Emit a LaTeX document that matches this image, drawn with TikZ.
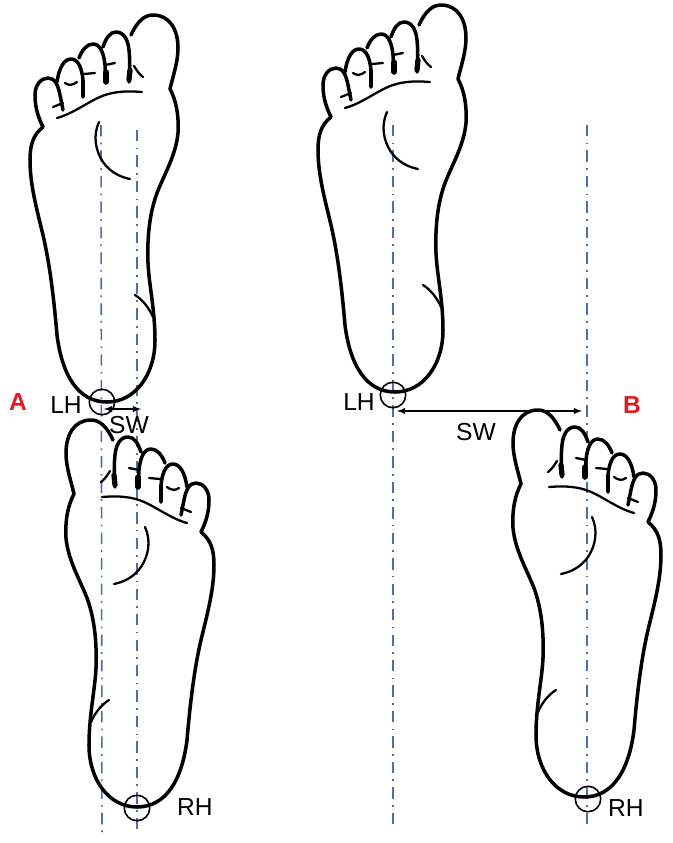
\documentclass[tikz,border=0pt]{standalone}
\usepackage{fontspec}
\setmainfont{Liberation Sans}
\usetikzlibrary{arrows}
\tikzset{
  skin/.style={line width=2pt,black,line cap=round,line join=round},
  crease/.style={line width=1.3pt,black,line cap=round},
  axisline/.style={color=axisblue,line width=0.9pt,dash pattern=on 6.5pt off 3.5pt on 1pt off 3.5pt},
  heelmark/.style={circle,draw,inner sep=0pt,minimum size=14.5pt,line width=0.9pt},
  label/.style={font=\fontsize{14}{16}\selectfont,inner sep=0pt},
  letter/.style={font=\fontsize{14}{16}\selectfont\bfseries,text=letterred,inner sep=0pt}
}
\definecolor{axisblue}{HTML}{4A70B0}
\definecolor{letterred}{HTML}{E01B22}
\begin{document}
\begin{tikzpicture}[x=0.02cm,y=-0.02cm]
                      \useasboundingbox (0,0) rectangle (673,843);
                      \foreach \u/\v/\w/\z in {101/125/102/835, 137/130/137/835, 393/125/393/830, 587/125/587/830} {
                        \coordinate (p) at (\u,\v);
                        \coordinate (q) at (\w,\z);
                        \draw[axisline] (p)--(q);
                      }
                      \foreach \px/\py/\fx in {0/0/1, 288/-10/1, 244/405/-1, 691/395/-1} {
                        \begin{scope}[shift={(\px,\py)},xscale=\fx]
                          \draw[skin] (43,127) .. controls (37,115) and (35,105) .. (35,95) .. controls (35,85) and (41,78) .. (48,78) .. controls (55,78) and (58,85) .. (60,95) -- (63,110);
                          \draw[skin] (57,82) .. controls (59,68) and (64,59) .. (71,59) .. controls (79,59) and (82,70) .. (83,80) -- (83,97);
                          \draw[skin] (79,58) .. controls (82,50) and (87,44) .. (93,44) .. controls (101,44) and (104,55) .. (105,65) -- (106,83);
                          \draw[skin] (103,47) .. controls (106,38) and (110,32) .. (116,32) .. controls (124,32) and (128,40) .. (129,50) .. controls (130,60) and (130,70) .. (129,82);
                          \draw[skin] (131,35) .. controls (137,22) and (144,15) .. (153,15) .. controls (170,15) and (178,30) .. (178,48) .. controls (178,62) and (173,76) .. (170,89);
                          \draw[skin] (170,89) .. controls (176,100) and (179,115) .. (178,133) .. controls (176,155) and (164,175) .. (157,193) .. controls (150,212) and (147,235) .. (148,263) .. controls (149,285) and (155,310) .. (155,340) .. controls (155,375) and (135,402) .. (107,402) .. controls (78,402) and (62,375) .. (57,335) .. controls (54,300) and (50,265) .. (43,235) .. controls (37,210) and (30,185) .. (30,160) .. controls (30,145) and (33,135) .. (43,127);
                          \draw[line width=3pt,black,line cap=round] (106,72)--(106,82);
                          \draw[line width=3pt,black,line cap=round] (130,70)--(129,80);
                          \draw[crease] (57,118) .. controls (75,113) and (90,100) .. (105,95) .. controls (117,91) and (130,91) .. (142,92);
                          \draw[crease] (99,122) .. controls (93,135) and (95,150) .. (103,162) .. controls (110,172) and (120,177) .. (130,179);
                          \draw[crease] (135,295) .. controls (143,300) and (149,308) .. (153,317);
                          \draw[crease] (53,107) -- (63,103);
                          \draw[crease] (65,83) .. controls (69,86) and (73,85) .. (77,82);
                          \draw[crease] (84,74) -- (95,73);
                          \draw[crease] (105,65) -- (115,63);
                          \draw[crease] (134,66) .. controls (137,71) and (140,75) .. (143,77);
                        \end{scope}
                      }
                      \node[heelmark](la)at(102,402){};
                      \node[heelmark](ra)at(137,808){};
                      \node[heelmark](lb)at(393,395){};
                      \node[heelmark](rb)at(588,799){};
                      \coordinate (sa1) at (104,409);
                      \coordinate (sa2) at (141,409);
                      \coordinate (sb1) at (397,411);
                      \coordinate (sb2) at (582,411);
                      \draw[latex-latex,line width=0.6pt](sa1)--(sa2);
                      \draw[latex-latex,line width=0.6pt](sb1)--(sb2);
                      \node[letter](ta)at(18,402){A};
                      \node[letter](tb)at(632,405){B};
                      \node[label](lha)at(66,405){LH};
                      \node[label](swa)at(129,425){SW};
                      \node[label](rha)at(195,807){RH};
                      \node[label](lhb)at(359,402){LH};
                      \node[label](swb)at(476,432){SW};
                      \node[label](rhb)at(626,808){RH};
                  \end{tikzpicture}
\end{document}
